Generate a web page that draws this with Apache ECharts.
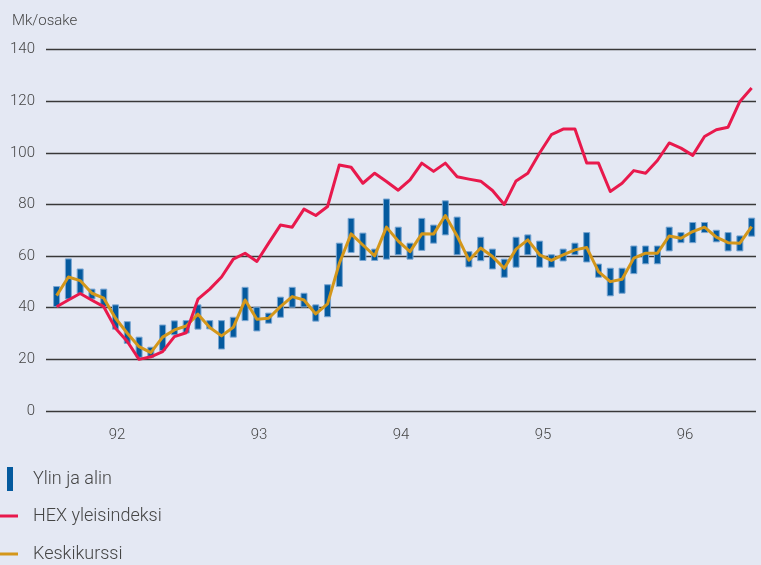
<!DOCTYPE html>
<html>
<head>
<meta charset="utf-8">
<script src="https://cdn.jsdelivr.net/npm/echarts@6/dist/echarts.min.js"></script>
<style>
  html, body { margin: 0; padding: 0; background: #e4e8f3; }
  #chart { width: 761px; height: 565px; }
</style>
</head>
<body>
<div id="chart"></div>
<script>
// vuodet x-akselilla
const yearLabels = ['92', '93', '94', '95', '96'];

// kuukausittainen ylin ja alin kurssi, 1992-1996
const high = [48.2, 58.9, 55.0, 47.2, 47.2, 41.1, 34.6, 28.6, 24.7, 33.3, 34.9, 35.0,
  41.1, 35.0, 35.0, 36.3, 47.9, 40.2, 37.9, 44.1, 47.9, 45.6, 41.1, 48.9,
  65.0, 74.6, 68.9, 62.7, 82.1, 71.2, 65.0, 74.6, 72.0, 81.4, 75.1, 61.7,
  67.3, 62.7, 58.8, 67.3, 68.2, 65.8, 60.5, 62.7, 65.0, 69.1, 56.9, 55.3,
  55.3, 63.9, 63.9, 63.9, 71.2, 69.1, 73.0, 73.0, 70.0, 69.1, 67.8, 74.7];
const low = [40.4, 43.4, 45.6, 43.4, 40.4, 31.7, 26.2, 20.8, 20.8, 23.4, 29.5, 30.2,
  31.7, 31.8, 24.0, 28.6, 35.0, 31.0, 34.0, 36.3, 40.2, 40.3, 34.8, 36.5,
  48.2, 61.4, 58.3, 58.3, 58.8, 60.5, 58.8, 62.2, 65.0, 68.2, 60.5, 55.8,
  58.2, 55.0, 51.8, 55.7, 60.5, 55.7, 55.7, 58.1, 60.5, 57.7, 51.8, 44.6,
  45.6, 53.2, 57.0, 57.0, 62.0, 65.2, 65.2, 69.1, 65.5, 62.0, 62.0, 67.7];

// keskikurssi
const avg = [44.7, 51.9, 50.5, 45.6, 43.7, 35.9, 30.1, 24.9, 22.6, 28.6, 31.4, 32.9,
  37.5, 32.3, 29.1, 32.4, 43.0, 35.5, 35.9, 40.4, 44.3, 43.0, 37.6, 41.5,
  57.2, 68.6, 64.3, 60.1, 71.2, 65.8, 61.7, 68.6, 68.5, 75.7, 67.8, 58.4,
  63.1, 59.8, 55.3, 62.7, 66.3, 60.5, 58.3, 60.5, 62.4, 63.3, 54.0, 50.1,
  51.0, 59.2, 61.1, 61.1, 67.8, 66.9, 69.5, 71.2, 67.3, 65.2, 65.0, 71.4];

// HEX yleisindeksi
const hex = [40.4, 43.0, 45.5, 42.9, 40.4, 32.0, 26.9, 20.0, 21.0, 23.0, 28.8, 30.3,
  43.3, 47.2, 51.9, 58.8, 61.1, 57.9, 65.0, 72.0, 71.2, 78.2, 75.7, 79.2,
  95.3, 94.4, 88.2, 92.1, 88.9, 85.5, 89.5, 96.0, 92.8, 96.0, 90.7, 89.8,
  89.0, 85.4, 80.0, 89.1, 92.1, 99.9, 107.0, 109.2, 109.2, 96.0, 96.0, 85.0,
  88.2, 93.1, 92.1, 97.0, 103.8, 101.8, 99.0, 106.3, 108.9, 109.9, 119.9, 125.1];

const textColor = '#454545';
const font = 'Roboto, "Noto Sans", sans-serif';

let chartDom = document.getElementById('chart');
let myChart = echarts.init(chartDom);

const rangeData = high.map((v, i) => [i, v, low[i]]);
const avgData = avg.map((v, i) => [i, v]);
const hexData = hex.map((v, i) => [i, v]);

// pystypalkki ylimmästä alimpaan
const renderRange = (params, api) => {
  let top = api.coord([api.value(0), api.value(1)]);
  let bottom = api.coord([api.value(0), api.value(2)]);
  return {
    type: 'rect',
    shape: { x: top[0] - 3, y: top[1], width: 6, height: bottom[1] - top[1] },
    style: { fill: '#045a9e', stroke: '#7aa6d2', lineWidth: 1 }
  };
};

const legendText = {
  color: textColor, fontFamily: font, fontSize: 18, fontWeight: 300, lineHeight: 22
};

let option = {
  backgroundColor: '#e4e8f3',
  animation: false,
  title: {
    text: 'Mk/osake',
    left: 12, top: 14, padding: 0,
    textStyle: { color: textColor, fontFamily: font, fontSize: 15, fontWeight: 300 }
  },
  grid: { left: 46, right: 5, top: 49.5, bottom: 154 },
  legend: [
    {
      data: ['Ylin ja alin'], left: 7, top: 467, padding: 0, selectedMode: false,
      icon: 'rect', itemWidth: 6, itemHeight: 24,
      textStyle: Object.assign({ padding: [0, 0, 0, 15] }, legendText)
    },
    {
      data: ['HEX yleisindeksi'], left: 0, top: 505, padding: 0, selectedMode: false,
      icon: 'rect', itemWidth: 18, itemHeight: 3,
      textStyle: Object.assign({ padding: [0, 0, 0, 10] }, legendText)
    },
    {
      data: ['Keskikurssi'], left: 0, top: 543, padding: 0, selectedMode: false,
      icon: 'rect', itemWidth: 18, itemHeight: 3,
      textStyle: Object.assign({ padding: [0, 0, 0, 10] }, legendText)
    }
  ],
  xAxis: [
    {
      type: 'category',
      data: yearLabels,
      boundaryGap: true,
      axisLine: { show: false },
      axisTick: { show: false },
      axisLabel: { color: textColor, fontFamily: font, fontSize: 15, fontWeight: 300, margin: 17 }
    },
    {
      type: 'value',
      show: false,
      min: -0.9,
      max: 59.37
    }
  ],
  yAxis: {
    type: 'value',
    min: 0,
    max: 140,
    interval: 20,
    axisLine: { show: false },
    axisTick: { show: false },
    axisLabel: { color: textColor, fontFamily: font, fontSize: 15, fontWeight: 300, margin: 11 },
    splitLine: { lineStyle: { color: '#383838', width: 1.4 } }
  },
  series: [
    {
      name: 'Ylin ja alin',
      type: 'custom',
      xAxisIndex: 1,
      renderItem: renderRange,
      itemStyle: { color: '#045a9e' },
      encode: { x: 0, y: [1, 2] },
      data: rangeData
    },
    {
      name: 'Keskikurssi',
      type: 'line',
      xAxisIndex: 1,
      color: '#d4971a',
      symbol: 'none',
      lineStyle: { color: '#d4971a', width: 3, join: 'round' },
      data: avgData
    },
    {
      name: 'HEX yleisindeksi',
      type: 'line',
      xAxisIndex: 1,
      color: '#e8194c',
      symbol: 'none',
      lineStyle: { color: '#e8194c', width: 3, join: 'round' },
      data: hexData
    }
  ]
};

option && myChart.setOption(option);
</script>
</body>
</html>
